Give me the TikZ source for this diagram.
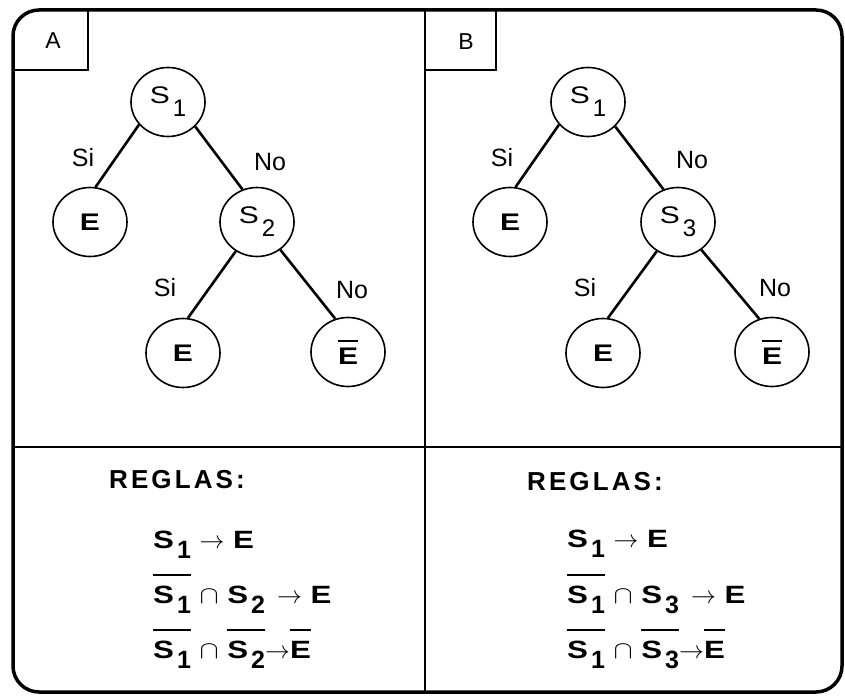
\documentclass[tikz,border=0pt]{standalone}
\usepackage{fontspec}
\setmainfont{Liberation Sans}
\newfontfamily\widefont{Liberation Sans}[FakeStretch=1.25]
\usetikzlibrary{shapes.geometric}

\newcommand\lowidx[2][10pt]{\kern3pt\raisebox{-#1}{\rmfamily #2}}
\newcommand\topbar[2][10pt]{\vbox{\hrule height 2pt\kern#1\hbox{#2}}}
\newcommand\imp{$\rightarrow$}
\newcommand\inter{\scalebox{1.15}[1]{$\cap$}}

\begin{document}
\begin{tikzpicture}[x=1pt,y=-1pt,
  cond/.style={draw,ellipse,line width=1.6pt,minimum width=74pt,minimum height=69pt,
    inner sep=0pt,font=\widefont\fontsize{24}{24}\selectfont},
  branch/.style={line width=2.6pt},
  answer/.style={font=\fontsize{25}{25}\selectfont},
  tag/.style={font=\fontsize{23}{23}\selectfont},
  heading/.style={font=\bfseries\fontsize{26}{26}\selectfont\addfontfeature{LetterSpace=12}},
  regla/.style={anchor=base west,inner sep=0pt,font=\widefont\bfseries\fontsize{25}{25}\selectfont}]
  \useasboundingbox (0,0) rectangle (845,700);

  \draw[line width=3.5pt,rounded corners=26pt] (13,10) rectangle (842,692);
  \draw[line width=2pt] (425,10) -- (425,692);
  \draw[line width=2pt] (13,447) -- (842,447);
  \draw[line width=1.8pt] (13,70) -- (88,70) -- (88,10);
  \draw[line width=1.8pt] (425,70) -- (496,70) -- (496,10);
  \node[tag] (tagA) at (53,41) {A};
  \node[tag] (tagB) at (466,42) {B};

  \node[cond] (s1A) at (168,102) {S\lowidx[13pt]{1}};
  \node[cond] (eA) at (90,222) {\bfseries E};
  \node[cond] (s2A) at (257,222) {S\lowidx[13pt]{2}};
  \node[cond] (e2A) at (183,353) {\bfseries E};
  \node[cond] (nA) at (348,352) {\bfseries\topbar[6pt]{E}};
  \draw[branch] (s1A.218) -- (eA.81);
  \draw[branch] (s1A.318) -- (s2A.114);
  \draw[branch] (s2A.234) -- (e2A.82);
  \draw[branch] (s2A.310) -- (nA.111);
  \node[answer] (siA1) at (83,158) {Si};
  \node[answer] (noA1) at (270,162) {No};
  \node[answer] (siA2) at (165,288) {Si};
  \node[answer] (noA2) at (352,290) {No};

  \begin{scope}[xshift=420pt]
    \node[cond] (s1B) at (168,102) {S\lowidx[13pt]{1}};
    \node[cond] (eB) at (90,222) {\bfseries E};
    \node[cond] (s3B) at (258,222) {S\lowidx[13pt]{3}};
    \node[cond] (e2B) at (183,353) {\bfseries E};
    \node[cond] (nB) at (352,352) {\bfseries\topbar[6pt]{E}};
    \draw[branch] (s1B.218) -- (eB.81);
    \draw[branch] (s1B.318) -- (s3B.114);
    \draw[branch] (s3B.234) -- (e2B.82);
    \draw[branch] (s3B.310) -- (nB.111);
    \node[answer] (siB1) at (82,158) {Si};
    \node[answer] (noB1) at (272,160) {No};
    \node[answer] (siB2) at (165,288) {Si};
    \node[answer] (noB2) at (355,288) {No};
  \end{scope}

  \node[heading] (reglasA) at (177,480) {REGLAS:};
  \node[regla] (ra1) at (153,548) {S\lowidx{1} \imp{} E};
  \node[regla] (ra2) at (153,603) {\topbar{S\lowidx{1}} \inter{} S\lowidx{2}\kern12pt \imp{} E};
  \node[regla] (ra3) at (153,658) {\topbar{S\lowidx{1}} \inter{} \topbar{S\lowidx{2}}\imp\topbar{E}};

  \node[heading] (reglasB) at (595,482) {REGLAS:};
  \node[regla] (rb1) at (567,547) {S\lowidx{1} \imp{} E};
  \node[regla] (rb2) at (567,603) {\topbar{S\lowidx{1}} \inter{} S\lowidx{3}\kern12pt \imp{} E};
  \node[regla] (rb3) at (567,658) {\topbar{S\lowidx{1}} \inter{} \topbar{S\lowidx{3}}\imp\topbar{E}};
\end{tikzpicture}
\end{document}
